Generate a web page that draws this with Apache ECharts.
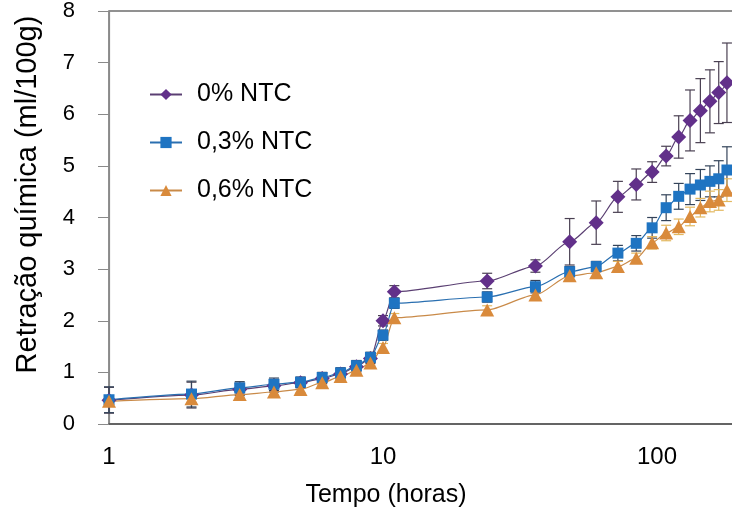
<!DOCTYPE html>
<html>
<head>
<meta charset="utf-8">
<script src="https://cdn.jsdelivr.net/npm/echarts@6/dist/echarts.min.js"></script>
<style>
  html, body { margin: 0; padding: 0; background: #ffffff; }
  #chart { width: 732px; height: 514px; }
</style>
</head>
<body>
<div id="chart"></div>
<script>
// Chemical shrinkage over time for three carbon-nanotube contents
const hours = [1, 2, 3, 4, 5, 6, 7, 8, 9, 10, 11, 24, 36, 48, 60, 72, 84, 96, 108, 120, 132, 144, 156, 168, 180];

const seriesNames = ['0% NTC', '0,3% NTC', '0,6% NTC'];

const shrink0 = [0.46, 0.56, 0.67, 0.74, 0.80, 0.88, 0.97, 1.11, 1.27, 2.00, 2.56, 2.77, 3.06, 3.53, 3.90, 4.40, 4.64, 4.88, 5.19, 5.56, 5.88, 6.07, 6.25, 6.42, 6.61];
const err0    = [0.25, 0.25, 0.12, 0.12, 0.10, 0.10, 0.10, 0.10, 0.10, 0.10, 0.12, 0.15, 0.12, 0.45, 0.42, 0.30, 0.30, 0.20, 0.19, 0.41, 0.59, 0.62, 0.61, 0.60, 0.77];

const shrink3 = [0.47, 0.58, 0.70, 0.77, 0.81, 0.90, 0.99, 1.13, 1.29, 1.72, 2.34, 2.46, 2.66, 2.95, 3.05, 3.31, 3.50, 3.80, 4.19, 4.41, 4.55, 4.63, 4.70, 4.75, 4.92];
const err3    = [0.25, 0.25, 0.12, 0.12, 0.10, 0.10, 0.10, 0.10, 0.10, 0.10, 0.10, 0.10, 0.12, 0.10, 0.10, 0.15, 0.15, 0.20, 0.25, 0.25, 0.30, 0.30, 0.30, 0.35, 0.45];

const shrink6 = [0.44, 0.49, 0.57, 0.62, 0.67, 0.80, 0.92, 1.04, 1.18, 1.48, 2.06, 2.21, 2.50, 2.87, 2.93, 3.05, 3.21, 3.51, 3.70, 3.82, 4.02, 4.19, 4.31, 4.34, 4.53];
const err6    = [0.08, 0.08, 0.06, 0.06, 0.06, 0.06, 0.06, 0.06, 0.06, 0.08, 0.08, 0.08, 0.08, 0.10, 0.08, 0.10, 0.10, 0.12, 0.15, 0.15, 0.18, 0.18, 0.20, 0.20, 0.22];

const yTicks = [0, 1, 2, 3, 4, 5, 6, 7, 8];

const FONT = '"Liberation Sans", Arial, Helvetica, sans-serif';
const colors = ['#62308a', '#1f74c2', '#d98a3b'];
const lineColors = ['#5a3f72', '#2a6fb0', '#c98a48'];
const barColors = ['#4a4052', '#34445a', '#e3b860'];
const symbols = ['diamond', 'rect', 'triangle'];
const symbolSizes = [[15, 15], [11, 11], [14, 13]];

const values = [shrink0, shrink3, shrink6];
const errors = [err0, err3, err6];

function pairs(v) { return hours.map((t, i) => [t, v[i]]); }
function ranges(v, e) { return hours.map((t, i) => [t, v[i] - e[i], v[i] + e[i]]); }

function errorBarRenderer(color) {
  return function (params, api) {
    const x = api.value(0);
    const lo = api.coord([x, api.value(1)]);
    const hi = api.coord([x, api.value(2)]);
    const w = 5;
    const style = { stroke: color, lineWidth: 1.2 };
    return {
      type: 'group',
      children: [
        { type: 'line', shape: { x1: lo[0], y1: lo[1], x2: hi[0], y2: hi[1] }, style: style },
        { type: 'line', shape: { x1: hi[0] - w, y1: hi[1], x2: hi[0] + w, y2: hi[1] }, style: style },
        { type: 'line', shape: { x1: lo[0] - w, y1: lo[1], x2: lo[0] + w, y2: lo[1] }, style: style }
      ]
    };
  };
}

const series = [];
seriesNames.forEach((name, k) => {
  series.push({
    type: 'custom',
    renderItem: errorBarRenderer(barColors[k]),
    data: ranges(values[k], errors[k]),
    encode: { x: 0, y: [1, 2] },
    z: 2,
    silent: true
  });
});
seriesNames.forEach((name, k) => {
  series.push({
    name: name,
    type: 'line',
    data: pairs(values[k]),
    smooth: 0.25,
    smoothMonotone: 'x',
    symbol: symbols[k],
    symbolSize: symbolSizes[k],
    showAllSymbol: true,
    itemStyle: { color: colors[k] },
    lineStyle: { color: lineColors[k], width: 1.2 },
    z: 3
  });
});

const chart = echarts.init(document.getElementById('chart'), null, { renderer: 'canvas' });
chart.setOption({
  animation: false,
  backgroundColor: '#ffffff',
  textStyle: { fontFamily: FONT },
  grid: {
    left: 109, top: 11, bottom: 90, right: -199,
    containLabel: false,
    outerBoundsMode: 'none',
    show: true, borderColor: '#6e6e6e', borderWidth: 1.5, backgroundColor: 'transparent'
  },
  legend: {
    data: seriesNames,
    orient: 'vertical',
    left: 144,
    top: 77,
    itemWidth: 32,
    itemHeight: 14,
    itemGap: 23,
    textStyle: { fontSize: 25, color: '#000', fontFamily: FONT, padding: [0, 0, 0, 10] }
  },
  xAxis: {
    type: 'log',
    logBase: 10,
    min: 1,
    max: 1000,
    name: 'Tempo (horas)',
    nameLocation: 'middle',
    nameGap: 59,
    nameTextStyle: { fontSize: 25, color: '#000', fontFamily: FONT, padding: [0, 268, 0, 0] },
    axisLine: { show: true, lineStyle: { color: '#555', width: 1.5 } },
    axisTick: { show: false },
    minorTick: { show: false },
    splitLine: { show: false },
    axisLabel: { fontSize: 24, color: '#000', margin: 21, fontFamily: FONT }
  },
  yAxis: {
    type: 'value',
    min: yTicks[0],
    max: yTicks[yTicks.length - 1],
    interval: 1,
    name: 'Retração química (ml/100g)',
    nameLocation: 'middle',
    nameGap: 67,
    nameTextStyle: { fontSize: 29, color: '#000', fontFamily: FONT, padding: [0, 0, 0, 46] },
    axisLine: { show: true, lineStyle: { color: '#8a8a8a', width: 1.2 } },
    axisTick: { show: true, inside: false, length: 11, lineStyle: { color: '#8a8a8a' } },
    splitLine: { show: false },
    axisLabel: { fontSize: 22, color: '#000', margin: 34, fontFamily: FONT }
  },
  series: series
});
</script>
</body>
</html>
